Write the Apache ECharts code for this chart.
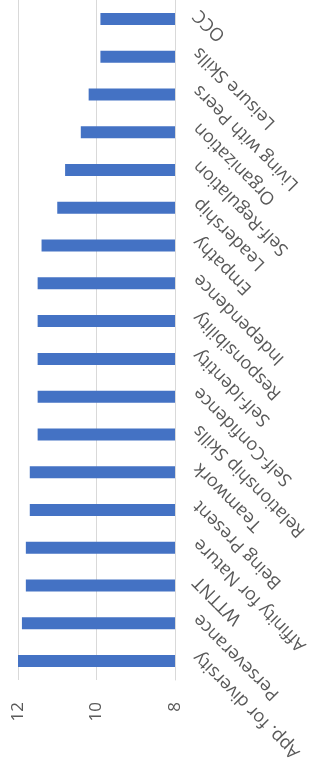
<!DOCTYPE html>
<html>
<head>
<meta charset="utf-8">
<script src="https://cdn.jsdelivr.net/npm/echarts@6/dist/echarts.min.js"></script>
<style>
  html, body { margin: 0; padding: 0; background: #fff; }
  #chart { width: 312px; height: 778px; }
</style>
</head>
<body>
<div id="chart"></div>
<script>
// categories, bottom to top
var categories = [
  'App. for diversity', 'Perseverance', 'WTTNT', 'Affinity for Nature',
  'Being Present', 'Teamwork', 'Relationship Skills', 'Self-Confidence',
  'Self-Identity', 'Responsibility', 'Independence', 'Empathy',
  'Leadership', 'Self-Regulation', 'Organization', 'Living with Peers',
  'Leisure Skills', 'OCC'
];
var scores = [
  12.0, 11.9, 11.8, 11.8,
  11.7, 11.7, 11.5, 11.5,
  11.5, 11.5, 11.5, 11.4,
  11.0, 10.8, 10.4, 10.2,
  9.9, 9.9
];
var axisMin = 8;
var axisMax = 12;
var axisStep = 2;

var chart = echarts.init(document.getElementById('chart'));
chart.setOption({
  animation: false,
  backgroundColor: '#ffffff',
  grid: { left: 18, right: 137, top: -2, bottom: 98 },
  xAxis: {
    type: 'value',
    position: 'bottom',
    inverse: true,
    min: axisMin,
    max: axisMax,
    interval: axisStep,
    axisLine: { show: false },
    axisTick: { show: false },
    splitLine: { lineStyle: { color: '#d9d9d9', width: 1 } },
    axisLabel: {
      rotate: 90,
      margin: 22,
      fontSize: 17,
      fontFamily: 'Open Sans',
      color: '#595959'
    }
  },
  yAxis: {
    type: 'category',
    position: 'right',
    data: categories,
    axisLine: { show: true, lineStyle: { color: '#d9d9d9' } },
    axisTick: { show: false },
    axisLabel: {
      interval: 0,
      rotate: 135,
      align: 'right',
      verticalAlign: 'top',
      margin: 15,
      fontSize: 18,
      fontFamily: 'Open Sans',
      color: '#595959'
    }
  },
  series: [{
    type: 'bar',
    data: scores,
    barWidth: 12,
    itemStyle: { color: '#4472C4' }
  }]
});
</script>
</body>
</html>
